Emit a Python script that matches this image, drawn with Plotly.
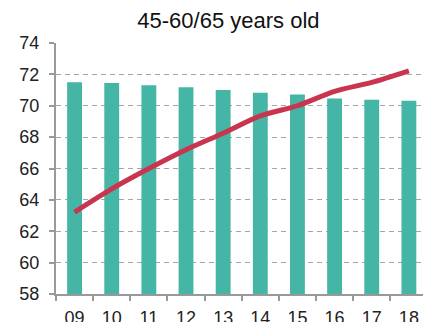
import plotly.graph_objects as go

years = ["09", "10", "11", "12", "13", "14", "15", "16", "17", "18"]
bar_values = [71.5, 71.45, 71.3, 71.18, 71.0, 70.83, 70.72, 70.47, 70.38, 70.32]
line_values = [63.22, 64.7, 66.0, 67.2, 68.25, 69.35, 70.0, 70.92, 71.49, 72.23]
y_ticks = [58, 60, 62, 64, 66, 68, 70, 72, 74]
title_text = "45-60/65 years old"

font_family = "Arial, Liberation Sans, sans-serif"

fig = go.Figure()
fig.add_trace(go.Bar(
    x=years, y=[v - 58 for v in bar_values], base=58,
    marker=dict(color="#45B5A5", line=dict(width=0)),
    width=0.4, showlegend=False,
))
fig.add_trace(go.Scatter(
    x=years, y=line_values, mode="lines",
    line=dict(color="#C9344F", width=5, shape="spline", smoothing=0.8),
    showlegend=False,
))

fig.update_layout(
    width=423, height=322,
    margin=dict(l=56, r=0, t=43, b=28),
    paper_bgcolor="white", plot_bgcolor="white",
    font=dict(family=font_family, color="#222222", size=18),
    title=dict(text=title_text, x=0.54, xanchor="center", y=0.937, yanchor="middle",
               font=dict(size=22, color="#111111")),
    xaxis=dict(
        type="category", range=[-0.5, 9.38], automargin=False,
        tickson="boundaries", ticks="outside", ticklen=5, tickwidth=1.5,
        tickcolor="#999999", showline=True, linecolor="#999999", linewidth=2,
        showgrid=False, tickfont=dict(size=18), ticklabelstandoff=6,
    ),
    yaxis=dict(
        range=[58, 74], tickvals=y_ticks, ticks="outside", ticklen=5, tickwidth=1.5,
        automargin=False,
        tickcolor="#999999", showline=True, linecolor="#999999", linewidth=2,
        showgrid=True, gridcolor="#a6a6a6", gridwidth=1.2, griddash="5px,4px",
        zeroline=False, tickfont=dict(size=18), ticklabelstandoff=6,
    ),
)

fig.write_html("out.html")
